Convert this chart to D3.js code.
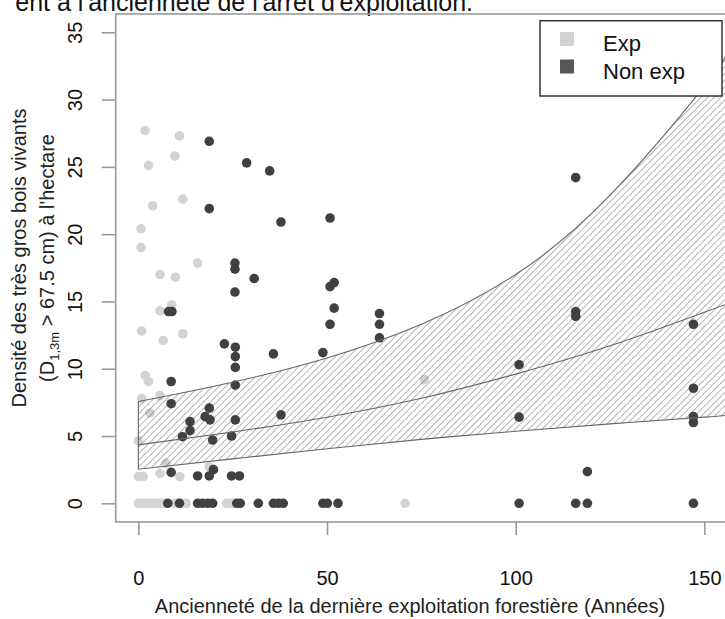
<!DOCTYPE html>
<html lang="fr">
<head>
<meta charset="utf-8">
<title>Densité TGB vs ancienneté</title>
<script src="https://cdn.jsdelivr.net/npm/d3@7"></script>
<style type="text/css">
  body { margin: 0; background: #fff; }
  svg { display: block; font-family: "Liberation Sans", Arial, sans-serif; }
</style>
</head>
<body>
<script type="text/javascript">
// data
var expX = [1.8, 10.9, 2.7, 9.7, 3.8, 11.8, 0.7, 0.7, 15.7, 5.75, 9.8, 8.85, 5.75, 0.9, 6.6, 11.8,
            1.8, 2.65, 0.9, 5.75, 3.1, 0, 18.8, 7.3, 1.3, 0, 5.75, 11.0, 75.8,
            0, 0.8, 1.6, 2.4, 3.2, 4.0, 4.8, 5.6, 6.6, 9.5, 10.3, 11.5, 12.7, 23.4, 24.4, 25.2, 70.7];
var expY = [27.7, 27.3, 25.1, 25.8, 22.1, 22.6, 20.4, 19.0, 17.85, 17.0, 16.8, 14.75, 14.3, 12.8, 12.1, 12.6,
            9.5, 9.05, 7.8, 8.0, 6.7, 4.65, 2.7, 2.97, 1.98, 1.98, 2.23, 1.98, 9.2,
            0, 0, 0, 0, 0, 0, 0, 0, 0, 0, 0, 0, 0, 0, 0, 0, 0];

var nonX = [18.8, 28.7, 34.8, 18.8, 37.8, 50.8, 115.9, 25.6, 25.6, 30.7, 50.8, 51.9, 25.6, 51.9, 50.8,
            63.9, 63.9, 63.9, 8.0, 8.9, 22.8, 25.7, 25.7, 25.7, 35.8, 48.9, 8.7, 25.7, 8.7, 18.8,
            17.7, 19.0, 37.8, 13.7, 13.7, 25.7, 11.7, 24.7, 19.7, 8.7, 19.9, 18.8, 15.7, 24.7, 26.8,
            7.8, 10.9, 15.7, 17.0, 18.4, 19.7, 26.1, 27.0, 31.8, 35.8, 37.1, 38.4, 48.9, 50.1, 52.9,
            115.9, 115.9, 147.1, 100.9, 147.1, 100.9, 147.1, 147.1, 119.0,
            100.9, 115.9, 119.0, 147.1];
var nonY = [26.9, 25.3, 24.7, 21.9, 20.9, 21.2, 24.2, 17.85, 17.4, 16.7, 16.1, 16.4, 15.7, 14.5, 13.3,
            14.1, 13.3, 12.3, 14.25, 14.25, 11.85, 11.6, 10.9, 10.1, 11.1, 11.2, 9.05, 8.78, 7.4, 7.07,
            6.44, 6.2, 6.57, 6.07, 5.4, 6.2, 4.95, 5.0, 4.7, 2.3, 2.5, 2.03, 2.03, 2.03, 2.03,
            0, 0, 0, 0, 0, 0, 0, 0, 0, 0, 0, 0, 0, 0, 0,
            14.25, 13.9, 13.3, 10.3, 8.55, 6.4, 6.44, 6.0, 2.35,
            0, 0, 0, 0];

// fitted curve and confidence band
var bandX    = [0, 25, 50, 75, 100, 125, 150, 156];
var bandLow  = [2.53, 3.3, 4.05, 4.75, 5.35, 5.9, 6.4, 6.55];
var bandFit  = [4.34, 5.3, 6.4, 7.8, 9.6, 11.7, 14.2, 14.8];
var bandHigh = [7.56, 9.0, 10.8, 13.3, 17.0, 22.9, 31.0, 33.5];

var xTicks = [0, 50, 100, 150];
var yTicks = [0, 5, 10, 15, 20, 25, 30, 35];
var legendLabels = ["Exp", "Non exp"];
var legendColors = ["#d3d3d3", "#575757"];

var w = 725, h = 619;
var boxL = 115.7, boxR = 727, boxT = 14, boxB = 522;

var svg = d3.select("body").append("svg")
            .attr("width", w)
            .attr("height", h);

var xScale = d3.scaleLinear().domain([-6, 156]).range([boxL, boxR]);
var yScale = d3.scaleLinear().domain([-1.39, 36.36]).range([boxB, boxT]);

// caption fragment cut at the top
svg.append("text")
   .attr("x", 473).attr("y", 11)
   .attr("text-anchor", "end")
   .attr("font-size", "25px")
   .attr("fill", "#111")
   .text("ent à l'ancienneté de l'arrêt d'exploitation.");

svg.append("clipPath").attr("id", "plotclip")
   .append("rect")
   .attr("x", boxL).attr("y", boxT)
   .attr("width", boxR - boxL).attr("height", boxB - boxT);

// hatch pattern
var pat = svg.append("defs").append("pattern")
   .attr("id", "hatch")
   .attr("patternUnits", "userSpaceOnUse")
   .attr("width", 4.7).attr("height", 10)
   .attr("patternTransform", "rotate(45)");
pat.append("line")
   .attr("x1", 0).attr("y1", -1).attr("x2", 0).attr("y2", 11)
   .attr("stroke", "#4a4a4a").attr("stroke-width", 0.85);

var plot = svg.append("g").attr("clip-path", "url(#plotclip)");

var band = bandX.map(function(d, i) { return {x: d, lo: bandLow[i], fit: bandFit[i], hi: bandHigh[i]}; });

// points: Exp first, then Non exp
var expPts = expX.map(function(d, i) { return {x: d, y: expY[i]}; });
var nonPts = nonX.map(function(d, i) { return {x: d, y: nonY[i]}; });

plot.selectAll("circle.exp")
    .data(expPts)
    .enter()
    .append("circle")
    .attr("class", "exp")
    .attr("cx", function(d) { return xScale(d.x); })
    .attr("cy", function(d) { return yScale(d.y); })
    .attr("r", 4.8)
    .attr("fill", legendColors[0]);

plot.selectAll("circle.non")
    .data(nonPts)
    .enter()
    .append("circle")
    .attr("class", "non")
    .attr("cx", function(d) { return xScale(d.x); })
    .attr("cy", function(d) { return yScale(d.y); })
    .attr("r", 4.8)
    .attr("fill", "#404040");

var area = d3.area()
    .x(function(d) { return xScale(d.x); })
    .y0(function(d) { return yScale(d.lo); })
    .y1(function(d) { return yScale(d.hi); })
    .curve(d3.curveNatural);

plot.append("path")
    .datum(band)
    .attr("d", area)
    .attr("fill", "url(#hatch)")
    .attr("stroke", "#666")
    .attr("stroke-width", 1.1);

var fitLine = d3.line()
    .x(function(d) { return xScale(d.x); })
    .y(function(d) { return yScale(d.fit); })
    .curve(d3.curveNatural);

plot.append("path")
    .datum(band)
    .attr("d", fitLine)
    .attr("fill", "none")
    .attr("stroke", "#666")
    .attr("stroke-width", 1.1);

// box
svg.append("rect")
   .attr("x", boxL).attr("y", boxT)
   .attr("width", boxR - boxL).attr("height", boxB - boxT)
   .attr("fill", "none")
   .attr("stroke", "#9a9a9a")
   .attr("stroke-width", 1.6);

// axes
var xAxis = svg.append("g")
   .attr("transform", "translate(0," + boxB + ")")
   .call(d3.axisBottom(xScale).tickValues(xTicks).tickSize(13).tickPadding(50));
var yAxis = svg.append("g")
   .attr("transform", "translate(" + boxL + ",0)")
   .call(d3.axisLeft(yScale).tickValues(yTicks).tickSize(14).tickPadding(0));

[xAxis, yAxis].forEach(function(a) {
  a.select(".domain").remove();
  a.selectAll(".tick line").attr("stroke", "#9a9a9a").attr("stroke-width", 1.6);
  a.selectAll(".tick text")
   .attr("font-family", "Liberation Sans, Arial, sans-serif")
   .attr("font-size", "20px")
   .attr("fill", "#111");
});
xAxis.selectAll(".tick text").attr("dy", "0");

yAxis.selectAll(".tick text")
   .attr("x", null).attr("dy", null)
   .attr("text-anchor", "middle")
   .attr("transform", "translate(-41,0) rotate(-90)")
   .attr("dominant-baseline", "central")
   .attr("y", 0);

// axis titles
svg.append("text")
   .attr("x", 410).attr("y", 613)
   .attr("text-anchor", "middle")
   .attr("font-size", "20px")
   .attr("fill", "#222")
   .text("Ancienneté de la dernière exploitation forestière (Années)");

var cy = 258;
svg.append("text")
   .attr("transform", "translate(26," + cy + ") rotate(-90)")
   .attr("text-anchor", "middle")
   .attr("font-size", "20px")
   .attr("fill", "#222")
   .text("Densité des très gros bois vivants");

var t2 = svg.append("text")
   .attr("transform", "translate(54," + cy + ") rotate(-90)")
   .attr("text-anchor", "middle")
   .attr("font-size", "20px")
   .attr("fill", "#222");
t2.append("tspan").text("(D");
t2.append("tspan").attr("font-size", "13px").attr("dy", 5).text("1,3m");
t2.append("tspan").attr("dy", -5).text(" > 67.5 cm) à l'hectare");

// legend
var lg = svg.append("g");
lg.append("rect")
  .attr("x", 540).attr("y", 20.7)
  .attr("width", 182).attr("height", 75.3)
  .attr("fill", "#fff")
  .attr("stroke", "#333")
  .attr("stroke-width", 1.5);
lg.selectAll("rect.key")
  .data(legendLabels)
  .enter()
  .append("rect")
  .attr("class", "key")
  .attr("x", 560)
  .attr("y", function(d, i) { return 32 + i * 27.5; })
  .attr("width", 14).attr("height", 14)
  .attr("fill", function(d, i) { return legendColors[i]; });
lg.selectAll("text")
  .data(legendLabels)
  .enter()
  .append("text")
  .attr("x", 603)
  .attr("y", function(d, i) { return 51 + i * 28; })
  .attr("font-size", "22px")
  .attr("fill", "#111")
  .text(function(d) { return d; });
</script>
</body>
</html>
